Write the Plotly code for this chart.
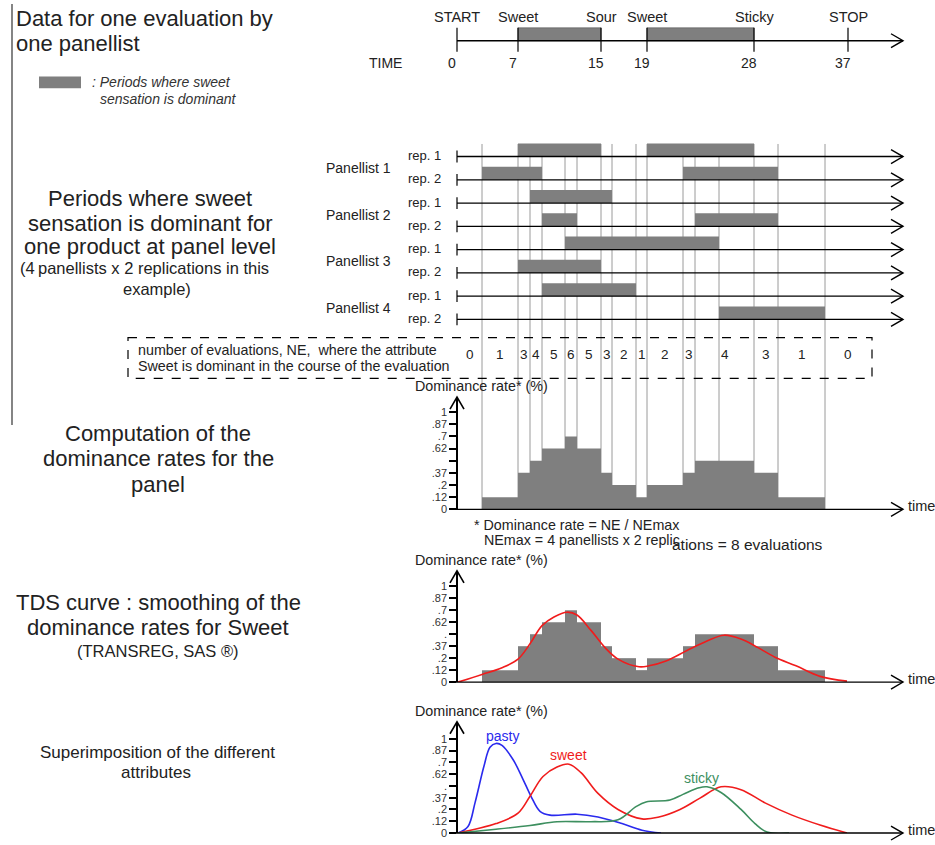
import plotly.graph_objects as go

W, H = 935, 845
FONT = "Liberation Sans, Arial, sans-serif"
TXT = "#222222"
BAR = "#7f7f7f"

# ---------------- data ----------------
# one evaluation by one panellist (labels as printed, positions read on the drawing's time axis)
event_names = ["START", "Sweet", "Sour", "Sweet", "Sticky", "STOP"]
event_labels = ["0", "7", "15", "19", "28", "37"]
event_pos = [0.0, 6.1, 14.4, 19.0, 29.7, 39.1]
sweet_event_pairs = [(1, 2), (3, 4)]

# panel level: periods where sweet is dominant (start, end) for each evaluation
panellists = ["Panellist 1", "Panellist 2", "Panellist 3", "Panellist 4"]
reps = ["rep. 1", "rep. 2"]
p1_rep1 = [(6.1, 14.4), (19.0, 29.7)]
p1_rep2 = [(2.5, 8.5), (22.6, 32.1)]
p2_rep1 = [(7.3, 15.5)]
p2_rep2 = [(8.5, 12.0), (23.8, 32.1)]
p3_rep1 = [(10.8, 26.2)]
p3_rep2 = [(6.1, 14.4)]
p4_rep1 = [(8.5, 17.9)]
p4_rep2 = [(26.2, 36.8)]
sweet_periods = [p1_rep1, p1_rep2, p2_rep1, p2_rep2, p3_rep1, p3_rep2, p4_rep1, p4_rep2]
t_start, t_end = 0.0, 41.4
ne_max = 8

rate_ticks = [0, 0.125, 0.25, 0.375, 0.5, 0.625, 0.75, 0.875, 1]
rate_ticktext_3 = ["0", ".12", ".2", ".37", "", ".62", ".7", ".87", "1"]
rate_ticktext_45 = ["0", ".12", ".2", ".37", ".", ".62", ".7", ".87", "1"]

# smoothed TDS curve for sweet (panel 4)
tds_t = [0.1, 2.5, 4.5, 6.1, 7.3, 8.5, 9.7, 11.0, 12.0, 13.4, 14.8, 16.1, 18.2, 19.2,
         20.9, 23.0, 25.0, 26.7, 28.4, 30.1, 31.8, 33.9, 36.3, 39.0]
tds_v = [0.0, 0.08, 0.15, 0.24, 0.40, 0.59, 0.68, 0.73, 0.70, 0.54, 0.36, 0.24, 0.16, 0.17,
         0.22, 0.33, 0.43, 0.49, 0.45, 0.36, 0.26, 0.17, 0.06, 0.01]

# superimposition of attributes (panel 5)
pasty_t = [0.1, 1.1, 1.8, 2.7, 3.3, 3.9, 4.5, 5.6, 6.6, 7.4, 8.3, 9.3, 12.0, 14.1, 16.5, 18.5, 20.4]
pasty_v = [0.0, 0.07, 0.32, 0.71, 0.91, 0.95, 0.93, 0.78, 0.57, 0.39, 0.23, 0.19, 0.20, 0.17, 0.10, 0.03, 0.0]
sweet_t = [0.1, 3.9, 6.1, 7.3, 8.6, 10.0, 11.2, 12.4, 14.1, 16.1, 18.5, 20.2, 22.3, 24.3,
           26.4, 28.4, 30.8, 33.5, 36.3, 39.0]
sweet_v = [0.0, 0.10, 0.21, 0.39, 0.60, 0.70, 0.73, 0.64, 0.42, 0.25, 0.15, 0.17, 0.25, 0.37,
           0.49, 0.46, 0.32, 0.19, 0.085, 0.0]
sticky_t = [0.1, 3.9, 7.3, 10.0, 13.4, 16.1, 17.9, 18.9, 21.3, 22.6, 24.2, 25.0, 26.4, 28.4,
            29.8, 31.0, 33.2]
sticky_v = [0.0, 0.04, 0.08, 0.12, 0.12, 0.14, 0.28, 0.33, 0.35, 0.41, 0.48, 0.49, 0.43, 0.25,
            0.10, 0.01, 0.0]
curve_names = ["pasty", "sweet", "sticky"]
curve_colors = ["#2a2aee", "#f01c1c", "#3d8f5f"]

# ---------------- derived ----------------
bps = sorted({t for per in sweet_periods for iv in per for t in iv})
edges = [t_start] + bps + [t_end]
seg_a, seg_b, seg_ne = [], [], []
for a, b in zip(edges[:-1], edges[1:]):
    m = (a + b) / 2
    seg_a.append(a)
    seg_b.append(b)
    seg_ne.append(sum(any(s <= m < e for s, e in per) for per in sweet_periods))
seg_rate = [n / ne_max for n in seg_ne]
seg_mid = [(a + b) / 2 for a, b in zip(seg_a, seg_b)]
seg_w = [b - a for a, b in zip(seg_a, seg_b)]

# runs of equal NE for labels
runs = []
for a, b, n in zip(seg_a, seg_b, seg_ne):
    if runs and runs[-1][2] == n:
        runs[-1][1] = b
    else:
        runs.append([a, b, n])

# ---------------- geometry helpers (layout only) ----------------
X0 = 457.0     # px of time 0
KX = 10.0      # px per time unit
XR = [(0 - X0) / KX, (W - X0) / KX]
X_END = 903    # px of axis arrow tips


def xp(px):
    return px / W


def yp(py):
    return 1 - py / H


def ydom(py0, k, lo, hi):
    return [yp(py0 - lo * k), yp(py0 - hi * k)]


ROW_PY0, ROW_K = 321.7, 23.43       # row value 0 line position, px per row
TL_PY0, TL_K = 41.0, 13.0
P3_PY0, P3_K, P3_TOP = 513.0, 98.0, 400.0
P4_PY0, P4_K, P4_TOP = 687.0, 96.5, 575.0
P5_PY0, P5_K, P5_TOP = 839.0, 95.0, 727.0

fig = go.Figure()

# top timeline bars
tl_base = [event_pos[i] for i, j in sweet_event_pairs]
tl_len = [event_pos[j] - event_pos[i] for i, j in sweet_event_pairs]
fig.add_trace(go.Bar(x=tl_len, base=tl_base, y=[0] * len(tl_len), orientation="h",
                     width=1.0, offset=0, marker=dict(color=BAR, line=dict(width=0.6, color="#555")),
                     xaxis="x", yaxis="y", hoverinfo="skip"))

# panel rows bars
rb_x, rb_base, rb_y = [], [], []
for i, per in enumerate(sweet_periods):
    r = len(sweet_periods) - 1 - i
    for s, e in per:
        rb_x.append(e - s)
        rb_base.append(s)
        rb_y.append(r)
fig.add_trace(go.Bar(x=rb_x, base=rb_base, y=rb_y, orientation="h", width=0.56, offset=0,
                     marker=dict(color=BAR, line=dict(width=0)), xaxis="x", yaxis="y2",
                     hoverinfo="skip"))

# panel 3 dominance rates
fig.add_trace(go.Bar(x=seg_mid, y=seg_rate, width=seg_w, marker=dict(color=BAR, line=dict(width=0)),
                     xaxis="x", yaxis="y3", hoverinfo="skip"))
# panel 4 dominance rates + smoothed curve
fig.add_trace(go.Bar(x=seg_mid, y=seg_rate, width=seg_w, marker=dict(color=BAR, line=dict(width=0)),
                     xaxis="x", yaxis="y4", hoverinfo="skip"))
fig.add_trace(go.Scatter(x=tds_t, y=tds_v, mode="lines", line=dict(color="#f01c1c", width=1.6,
                         shape="spline", smoothing=1.0), xaxis="x", yaxis="y4", hoverinfo="skip"))
# panel 5 curves
for (ts, vs), col in zip([(pasty_t, pasty_v), (sweet_t, sweet_v), (sticky_t, sticky_v)], curve_colors):
    fig.add_trace(go.Scatter(x=ts, y=vs, mode="lines", line=dict(color=col, width=1.6,
                             shape="spline", smoothing=1.0), xaxis="x", yaxis="y5", hoverinfo="skip"))

shapes = []
ann = []


def txt(px, py, s, size=12, xanchor="center", color=TXT, italic=False, yanchor="middle"):
    ann.append(dict(x=xp(px), y=yp(py), xref="paper", yref="paper", text=s, showarrow=False,
                    xanchor=xanchor, yanchor=yanchor,
                    font=dict(family=FONT, size=size, color=color,
                              style="italic" if italic else "normal")))


def hline_arrow(py, x_from=X0, x_to=X_END, width=1.4):
    shapes.append(dict(type="line", xref="paper", yref="paper", x0=xp(x_from), x1=xp(x_to),
                       y0=yp(py), y1=yp(py), line=dict(color="black", width=width)))
    shapes.append(dict(type="path", xref="paper", yref="paper",
                       path=f"M {xp(x_to - 12)},{yp(py - 7)} L {xp(x_to)},{yp(py)} L {xp(x_to - 12)},{yp(py + 7)}",
                       line=dict(color="black", width=1.4)))


def vline_arrow_head(top):
    shapes.append(dict(type="path", xref="paper", yref="paper",
                       path=f"M {xp(X0 - 7)},{yp(top + 12)} L {xp(X0)},{yp(top)} L {xp(X0 + 7)},{yp(top + 12)}",
                       line=dict(color="black", width=1.6)))


# left border line
shapes.append(dict(type="line", xref="paper", yref="paper", x0=xp(12), x1=xp(12), y0=yp(4), y1=yp(428),
                   line=dict(color="#333", width=1.2)))

# vertical breakpoint lines (behind bars)
for t in bps:
    shapes.append(dict(type="line", xref="x", yref="paper", x0=t, x1=t, y0=yp(145), y1=yp(P3_PY0),
                       line=dict(color="#9a9a9a", width=1), layer="below"))

# top timeline
hline_arrow(TL_PY0)
for t, nm, lb in zip(event_pos, event_names, event_labels):
    shapes.append(dict(type="line", xref="x", yref="paper", x0=t, x1=t, y0=yp(28), y1=yp(52),
                       line=dict(color="black", width=1.2)))
    ann.append(dict(x=t, y=yp(17), xref="x", yref="paper", text=nm, showarrow=False,
                    yanchor="middle", font=dict(family=FONT, size=14.5, color=TXT)))
    ann.append(dict(x=t, y=yp(63), xref="x", yref="paper", text=lb, showarrow=False, xshift=-5,
                    yanchor="middle", font=dict(family=FONT, size=14, color=TXT)))
txt(385, 63, "TIME", 14)

# rows
n_rows = len(sweet_periods)
for i in range(n_rows):
    r = n_rows - 1 - i
    py = ROW_PY0 - r * ROW_K
    hline_arrow(py)
    shapes.append(dict(type="line", xref="paper", yref="paper", x0=xp(X0), x1=xp(X0),
                       y0=yp(py - 6), y1=yp(py + 6), line=dict(color="black", width=1.2)))
    txt(443, py - 1, reps[i % 2], 13, xanchor="right")
for k, pn in enumerate(panellists):
    py = ROW_PY0 - (n_rows - 1 - 2 * k) * ROW_K + ROW_K / 2
    txt(358, py, pn, 14)

# NE box
shapes.append(dict(type="rect", xref="paper", yref="paper", x0=xp(128), x1=xp(872), y0=yp(340), y1=yp(381),
                   line=dict(color="black", width=1.2, dash="dash")))
txt(136, 352, "number of evaluations, NE,  where the attribute", 14.3, xanchor="left")
txt(136, 369, "Sweet is dominant in the course of the evaluation", 14.3, xanchor="left")
for a, b, n in runs:
    ann.append(dict(x=(a + b) / 2, y=yp(357), xref="x", yref="paper", text=str(n), showarrow=False,
                    yanchor="middle", font=dict(family=FONT, size=13.5, color=TXT)))

# panel axes arrows + labels
for top, py0, lab_y in [(P3_TOP, P3_PY0, 389), (P4_TOP, P4_PY0, 564), (P5_TOP, P5_PY0, 716)]:
    vline_arrow_head(top)
    hline_arrow(py0, x_from=X0 - 6)
    txt(906, py0 - 3, "time", 14.5, xanchor="left")
    txt(413, lab_y, "Dominance rate* (%)", 14.3, xanchor="left")

txt(472, 529, "* Dominance rate = NE / NEmax", 14.3, xanchor="left")
txt(482, 544, "NEmax = 4 panellists x 2 replic", 14.3, xanchor="left")
txt(670, 548, "ations = 8 evaluations", 15.5, xanchor="left")

# curve labels
txt(502, 741, curve_names[0], 14, color=curve_colors[0])
txt(568, 760, curve_names[1], 14, color=curve_colors[1])
txt(701, 784, curve_names[2], 14, color=curve_colors[2])

# left texts
txt(14, 19, "Data for one evaluation by", 22, xanchor="left")
txt(14, 44, "one panellist", 22, xanchor="left")
shapes.append(dict(type="rect", xref="paper", yref="paper", x0=xp(39), x1=xp(81), y0=yp(77), y1=yp(89),
                   fillcolor=BAR, line=dict(width=0)))
txt(90, 83, ": Periods where sweet", 14, xanchor="left", italic=True, color="#333")
txt(98, 100, "sensation is dominant", 14, xanchor="left", italic=True, color="#333")

for s, py in [("Periods where sweet", 200), ("sensation is dominant for", 225),
              ("one product at panel level", 248)]:
    txt(150, py, s, 22)
txt(144, 270, "(4\u2009panellists x 2 replications in this", 16.5)
txt(157, 291, "example)", 16.5)

for s, py in [("Computation of the", 437), ("dominance rates for the", 462), ("panel", 488)]:
    txt(158, py, s, 22)
for s, py in [("TDS curve : smoothing of the", 607), ("dominance rates for Sweet", 632)]:
    txt(158, py, s, 22)
txt(158, 656, "(TRANSREG, SAS \u00ae)", 16.5)
txt(157, 758, "Superimposition of the different", 17)
txt(156, 778, "attributes", 17)

rate_axis = dict(anchor="free", position=xp(X0), showline=True, linecolor="black", linewidth=1.5,
                 ticks="outside", ticklen=7, tickwidth=2, tickcolor="black", tickvals=rate_ticks,
                 tickfont=dict(family=FONT, size=11, color="#333"), showgrid=False, zeroline=False,
                 fixedrange=True)

fig.update_layout(
    width=W, height=H, autosize=False, margin=dict(l=0, r=0, t=0, b=0),
    paper_bgcolor="white", plot_bgcolor="rgba(0,0,0,0)", showlegend=False, barmode="overlay",
    xaxis=dict(range=XR, domain=[0, 1], visible=False, fixedrange=True),
    yaxis=dict(range=[-2, 2], domain=ydom(TL_PY0, TL_K, -2, 2), visible=False, fixedrange=True),
    yaxis2=dict(range=[-0.8, 7.8], domain=ydom(ROW_PY0, ROW_K, -0.8, 7.8), visible=False,
                fixedrange=True),
    yaxis3=dict(rate_axis, range=[0, (P3_PY0 - P3_TOP) / P3_K],
                domain=ydom(P3_PY0, P3_K, 0, (P3_PY0 - P3_TOP) / P3_K), ticktext=rate_ticktext_3),
    yaxis4=dict(rate_axis, range=[0, (P4_PY0 - P4_TOP) / P4_K],
                domain=ydom(P4_PY0, P4_K, 0, (P4_PY0 - P4_TOP) / P4_K), ticktext=rate_ticktext_45),
    yaxis5=dict(rate_axis, range=[0, (P5_PY0 - P5_TOP) / P5_K],
                domain=ydom(P5_PY0, P5_K, 0, (P5_PY0 - P5_TOP) / P5_K), ticktext=rate_ticktext_45),
    shapes=shapes, annotations=ann,
)

fig.write_html("out.html", config={"displayModeBar": False},
               post_script="document.body.style.margin='0';document.body.style.overflow='hidden';")
